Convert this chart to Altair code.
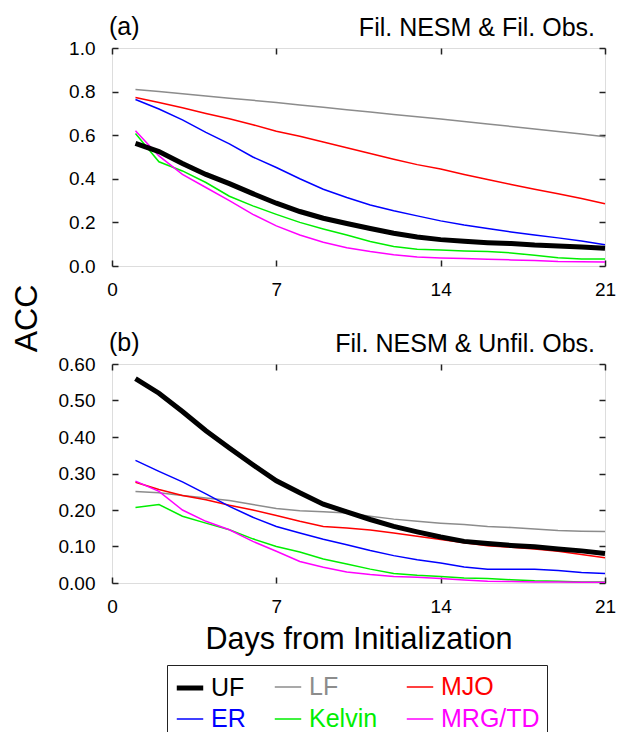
import altair as alt
import pandas as pd

FONT = "Liberation Sans"

days = list(range(1, 22))
series = ["UF", "LF", "MJO", "ER", "Kelvin", "MRG/TD"]
colors = ["#000000", "#8c8c8c", "#ff0000", "#0000ff", "#00ee00", "#ff00ff"]
widths = [5, 1.5, 1.5, 1.5, 1.5, 1.5]

# Panel (a): Fil. NESM & Fil. Obs.
uf_a = [0.562, 0.525, 0.47, 0.42, 0.378, 0.332, 0.288, 0.25, 0.219, 0.195, 0.172,
        0.15, 0.133, 0.121, 0.113, 0.107, 0.103, 0.096, 0.092, 0.087, 0.081]
lf_a = [0.81, 0.80, 0.79, 0.78, 0.77, 0.76, 0.75, 0.739, 0.728, 0.717, 0.706,
        0.695, 0.685, 0.674, 0.663, 0.651, 0.64, 0.628, 0.617, 0.605, 0.593]
mjo_a = [0.773, 0.75, 0.726, 0.70, 0.675, 0.648, 0.618, 0.595, 0.569, 0.542, 0.516,
         0.49, 0.465, 0.445, 0.42, 0.397, 0.374, 0.352, 0.331, 0.31, 0.286]
er_a = [0.764, 0.72, 0.67, 0.613, 0.56, 0.50, 0.452, 0.40, 0.352, 0.314, 0.28,
        0.253, 0.23, 0.207, 0.188, 0.172, 0.156, 0.142, 0.129, 0.115, 0.097]
kelvin_a = [0.608, 0.478, 0.436, 0.383, 0.32, 0.276, 0.237, 0.2, 0.17, 0.142, 0.112,
            0.089, 0.077, 0.073, 0.069, 0.066, 0.06, 0.049, 0.038, 0.032, 0.032]
mrg_a = [0.62, 0.505, 0.42, 0.36, 0.30, 0.237, 0.184, 0.142, 0.109, 0.084, 0.066,
         0.052, 0.041, 0.037, 0.034, 0.031, 0.028, 0.025, 0.021, 0.02, 0.018]

# Panel (b): Fil. NESM & Unfil. Obs.
uf_b = [0.56, 0.52, 0.47, 0.417, 0.37, 0.324, 0.28, 0.247, 0.216, 0.195, 0.174,
        0.155, 0.14, 0.126, 0.114, 0.108, 0.103, 0.099, 0.093, 0.088, 0.081]
lf_b = [0.251, 0.247, 0.24, 0.233, 0.226, 0.215, 0.204, 0.198, 0.195, 0.192, 0.183,
        0.175, 0.169, 0.164, 0.16, 0.155, 0.152, 0.148, 0.144, 0.142, 0.141]
mjo_b = [0.276, 0.256, 0.24, 0.228, 0.213, 0.2, 0.185, 0.169, 0.155, 0.151, 0.145,
         0.137, 0.128, 0.119, 0.11, 0.102, 0.098, 0.093, 0.087, 0.078, 0.069]
er_b = [0.336, 0.306, 0.277, 0.244, 0.21, 0.18, 0.155, 0.137, 0.12, 0.105, 0.089,
        0.075, 0.064, 0.055, 0.044, 0.038, 0.038, 0.038, 0.034, 0.029, 0.026]
kelvin_b = [0.207, 0.215, 0.183, 0.164, 0.146, 0.121, 0.1, 0.085, 0.066, 0.052, 0.038,
            0.026, 0.021, 0.018, 0.014, 0.012, 0.009, 0.006, 0.005, 0.003, 0.003]
mrg_b = [0.279, 0.251, 0.2, 0.169, 0.146, 0.114, 0.087, 0.059, 0.043, 0.03, 0.023,
         0.018, 0.016, 0.012, 0.008, 0.005, 0.004, 0.003, 0.003, 0.002, 0.002]

x_ticks = [0, 7, 14, 21]
y_ticks_a = [0.0, 0.2, 0.4, 0.6, 0.8, 1.0]
y_ticks_b = [0.0, 0.1, 0.2, 0.3, 0.4, 0.5, 0.6]

W, HA, HB = 493, 218, 219


def long_df(d):
    rows = []
    for name, vals in d.items():
        for day, v in zip(days, vals):
            rows.append({"day": day, "acc": v, "series": name})
    return pd.DataFrame(rows)


label_color_expr = " : ".join(
    f"datum.value == '{s}' ? '{c}'" for s, c in zip(series, colors)
) + " : 'black'"

legend = alt.Legend(
    title=None, orient="none", legendX=55, legendY=617, columns=3,
    direction="horizontal", symbolType="stroke", symbolSize=700,
    labelFont=FONT, labelFontSize=25, labelColor={"expr": label_color_expr},
    labelOffset=5, columnPadding=25, rowPadding=4, padding=7,
    strokeColor="#222222", fillColor="white",
)

TICK = dict(offset=-6, tickSize=6, domain=False, grid=False,
            tickColor="#222222", tickWidth=1.5)


def panel(d, ymax, yticks, fmt, tag, subtitle, height, xtitle=None, ytitle=None):
    df = long_df(d)
    xs = alt.Scale(domain=[0, 21], nice=False, zero=False)
    ys = alt.Scale(domain=[0, ymax], nice=False)
    color = alt.Color("series:N", scale=alt.Scale(domain=series, range=colors), legend=legend)
    sw = alt.StrokeWidth("series:N",
                         scale=alt.Scale(type="ordinal", domain=series, range=widths),
                         legend=legend)
    xkw = dict(orient="bottom", values=x_ticks, labelFont=FONT, labelFontSize=19,
               labelPadding=14, labelColor="black", labelFlush=False, **TICK)
    if xtitle:
        xkw.update(title=xtitle, titleFont=FONT, titleFontSize=30.5, titleFontWeight="normal",
                   titleColor="black", titleY=71, titleBaseline="alphabetic")
    else:
        xkw.update(title=None)
    ykw = dict(orient="left", values=yticks, format=fmt, labelFont=FONT, labelFontSize=19,
               labelPadding=17, labelColor="black", labelFlush=False, **TICK)
    if ytitle:
        ykw.update(title=ytitle, titleFont=FONT, titleFontSize=32, titleFontWeight="normal",
                   titleColor="black", titleX=-92, titleY=270, titleBaseline="middle",
                   titleAlign="center")
    else:
        ykw.update(title=None)

    base = alt.Chart(df)
    others = base.transform_filter(alt.datum.series != "UF").mark_line().encode(
        x=alt.X("day:Q", scale=xs, axis=alt.Axis(**xkw)),
        y=alt.Y("acc:Q", scale=ys, axis=alt.Axis(**ykw)),
        color=color, strokeWidth=sw, detail="series:N",
    )
    uf = base.transform_filter(alt.datum.series == "UF").mark_line().encode(
        x=alt.X("day:Q", scale=xs, axis=None),
        y=alt.Y("acc:Q", scale=ys, axis=None),
        color=color, strokeWidth=sw,
    )
    mirror = base.mark_line(opacity=0).encode(
        x=alt.X("day:Q", scale=xs, axis=alt.Axis(orient="top", values=x_ticks, labels=False,
                                                 title=None, **TICK)),
        y=alt.Y("acc:Q", scale=ys, axis=alt.Axis(orient="right", values=yticks, labels=False,
                                                 title=None, **TICK)),
        detail="series:N",
    )
    tdf = pd.DataFrame({"tag": [tag], "sub": [subtitle]})
    tag_t = alt.Chart(tdf).mark_text(align="left", baseline="alphabetic", font=FONT,
                                     fontSize=25, color="black").encode(
        text="tag:N", x=alt.value(-3), y=alt.value(-13))
    sub_t = alt.Chart(tdf).mark_text(align="right", baseline="alphabetic", font=FONT,
                                     fontSize=25, color="black").encode(
        text="sub:N", x=alt.value(W - 10), y=alt.value(-12))
    return alt.layer(others, uf, mirror, tag_t, sub_t).resolve_axis(
        x="independent", y="independent"
    ).properties(width=W, height=height)


pa = panel({"UF": uf_a, "LF": lf_a, "MJO": mjo_a, "ER": er_a, "Kelvin": kelvin_a, "MRG/TD": mrg_a},
           1.0, y_ticks_a, ".1f", "(a)", "Fil. NESM & Fil. Obs.", HA, ytitle="ACC")
pb = panel({"UF": uf_b, "LF": lf_b, "MJO": mjo_b, "ER": er_b, "Kelvin": kelvin_b, "MRG/TD": mrg_b},
           0.6, y_ticks_b, ".2f", "(b)", "Fil. NESM & Unfil. Obs.", HB,
           xtitle="Days from Initialization")

chart = alt.vconcat(pa, pb, spacing=98, bounds="flush").properties(
    padding={"left": 9, "top": 14, "right": 5, "bottom": 5}
).configure_view(stroke="#222222", strokeWidth=1.8).configure(font=FONT)

chart.save("out.html", embed_options={"renderer": "svg", "actions": False})
